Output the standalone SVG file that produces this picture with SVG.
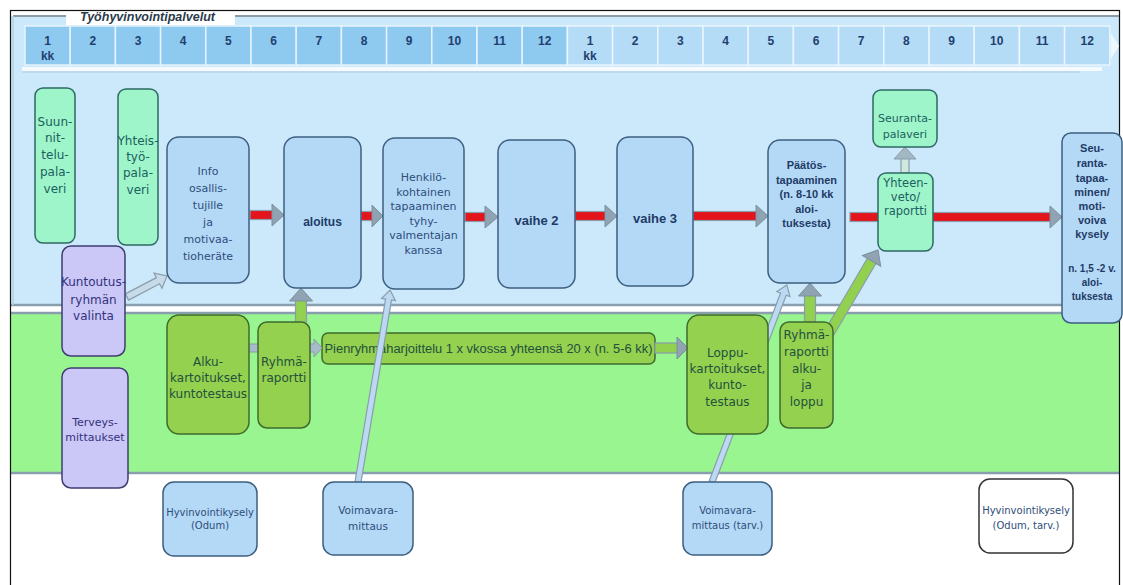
<svg xmlns="http://www.w3.org/2000/svg" width="1123" height="585" viewBox="0 0 1123 585">
<defs>
<style>
.bx{stroke-width:1.5}
.blue{fill:#b4d9f7;stroke:#3d5f80}
.mint{fill:#9ef5ca;stroke:#2d6a63}
.lav{fill:#cbc7f6;stroke:#3e3e70}
.olive{fill:#93d14f;stroke:#3f6b2e}
.white{fill:#ffffff;stroke:#333333}
.cellA{fill:#8ec9f0;stroke:#e6f3fc;stroke-width:1.5}
.cellB{fill:#b5dcf6;stroke:#eaf5fd;stroke-width:1.5}
.hn{font-family:"Liberation Sans",Arial,sans-serif;font-weight:bold;font-size:12px;fill:#1f3f6f;text-anchor:middle}
.t{font-family:"DejaVu Sans",Verdana,sans-serif;text-anchor:middle}
.tb{font-family:"Liberation Sans",Arial,sans-serif;font-weight:bold;text-anchor:middle;fill:#1f3b66}
.cb{fill:#2e4d7a}
.cm{fill:#1d6060}
.cl{fill:#33337e}
.co{fill:#24503e}
.red{fill:#e3141c;stroke:#8a9daa;stroke-width:1.2}
.gh{fill:#8fa3b3;stroke:#7d909e;stroke-width:1}
.gs{fill:#92d050;stroke:#8a9daa;stroke-width:1.2}
.hol{fill:#c6dae9;stroke:#8a9daa;stroke-width:1.2}
.thin{fill:#bcd9f3;stroke:#8a9daa;stroke-width:1.2}
</style>
</defs>

<!-- background -->
<rect x="0" y="0" width="1123" height="585" fill="#ffffff"/>
<rect x="11" y="16" width="1108" height="289" fill="#cce8fb"/>
<rect x="11" y="313" width="1108" height="160" fill="#98f590"/>
<line x1="11" y1="305" x2="1119" y2="305" stroke="#8a9fae" stroke-width="2.5"/>
<line x1="11" y1="313" x2="1119" y2="313" stroke="#8a9fae" stroke-width="2.5"/>
<line x1="11" y1="473" x2="1119" y2="473" stroke="#8a9fae" stroke-width="2.5"/>
<rect x="10.5" y="10.5" width="1109" height="600" fill="none" stroke="#111111" stroke-width="1.2"/>

<!-- header -->
<g id="header">
<line x1="13" y1="16" x2="66" y2="16" stroke="#8a9aa6" stroke-width="2"/>
<line x1="235" y1="16" x2="1119" y2="16" stroke="#8a9aa6" stroke-width="2"/>
<line x1="13" y1="16" x2="13" y2="305" stroke="#b8d2e2" stroke-width="1.5"/>
<rect x="66" y="12" width="169" height="13" fill="#ffffff"/>
<text x="80" y="21" font-family="Liberation Sans, Arial, sans-serif" font-size="12.5" font-weight="bold" font-style="italic" fill="#2a3a4a">Työhyvinvointipalvelut</text>
<rect x="22" y="67" width="1080" height="4" fill="#f4fafe"/>
<line x1="22" y1="72" x2="1080" y2="72" stroke="#b3c9d8" stroke-width="1"/>
<rect class="cellA" x="25" y="26" width="45.2" height="39"/>
<rect class="cellA" x="70.2" y="26" width="45.2" height="39"/>
<rect class="cellA" x="115.4" y="26" width="45.2" height="39"/>
<rect class="cellA" x="160.6" y="26" width="45.2" height="39"/>
<rect class="cellA" x="205.8" y="26" width="45.2" height="39"/>
<rect class="cellA" x="251" y="26" width="45.2" height="39"/>
<rect class="cellA" x="296.2" y="26" width="45.2" height="39"/>
<rect class="cellA" x="341.4" y="26" width="45.2" height="39"/>
<rect class="cellA" x="386.6" y="26" width="45.2" height="39"/>
<rect class="cellA" x="431.8" y="26" width="45.2" height="39"/>
<rect class="cellA" x="477" y="26" width="45.2" height="39"/>
<rect class="cellA" x="522.2" y="26" width="45.2" height="39"/>
<rect class="cellB" x="567.4" y="26" width="45.2" height="39"/>
<rect class="cellB" x="612.6" y="26" width="45.2" height="39"/>
<rect class="cellB" x="657.8" y="26" width="45.2" height="39"/>
<rect class="cellB" x="703" y="26" width="45.2" height="39"/>
<rect class="cellB" x="748.2" y="26" width="45.2" height="39"/>
<rect class="cellB" x="793.4" y="26" width="45.2" height="39"/>
<rect class="cellB" x="838.6" y="26" width="45.2" height="39"/>
<rect class="cellB" x="883.8" y="26" width="45.2" height="39"/>
<rect class="cellB" x="929" y="26" width="45.2" height="39"/>
<rect class="cellB" x="974.2" y="26" width="45.2" height="39"/>
<rect class="cellB" x="1019.4" y="26" width="45.2" height="39"/>
<rect class="cellB" x="1064.6" y="26" width="45.2" height="39"/>
<polygon points="1111,33 1119,46 1111,59" fill="#eef7fd"/>
<text class="hn" x="47.6" y="45">1</text><text class="hn" x="47.6" y="60">kk</text>
<text class="hn" x="92.8" y="45">2</text>
<text class="hn" x="138" y="45">3</text>
<text class="hn" x="183.2" y="45">4</text>
<text class="hn" x="228.4" y="45">5</text>
<text class="hn" x="273.6" y="45">6</text>
<text class="hn" x="318.8" y="45">7</text>
<text class="hn" x="364" y="45">8</text>
<text class="hn" x="409.2" y="45">9</text>
<text class="hn" x="454.4" y="45">10</text>
<text class="hn" x="499.6" y="45">11</text>
<text class="hn" x="544.8" y="45">12</text>
<text class="hn" x="590" y="45">1</text><text class="hn" x="590" y="60">kk</text>
<text class="hn" x="635.2" y="45">2</text>
<text class="hn" x="680.4" y="45">3</text>
<text class="hn" x="725.6" y="45">4</text>
<text class="hn" x="770.8" y="45">5</text>
<text class="hn" x="816" y="45">6</text>
<text class="hn" x="861.2" y="45">7</text>
<text class="hn" x="906.4" y="45">8</text>
<text class="hn" x="951.6" y="45">9</text>
<text class="hn" x="996.8" y="45">10</text>
<text class="hn" x="1042" y="45">11</text>
<text class="hn" x="1087.2" y="45">12</text>
</g>

<g id="pienryhma">
<rect class="bx olive" x="322" y="333" width="333" height="31" rx="6"/>
<text class="co" x="488.5" y="352.5" font-family="Liberation Sans, Arial, sans-serif" font-size="12.5" text-anchor="middle" textLength="328" lengthAdjust="spacingAndGlyphs">Pienryhmäharjoittelu 1 x vkossa yhteensä 20  x (n. 5-6 kk)</text>
</g>

<!-- connectors -->
<g id="connectors">
<!-- red flow arrows -->
<g transform="translate(250,215)"><rect class="red" x="0" y="-4.5" width="23" height="9"/><polygon class="gh" points="22,-11 34,0 22,11"/></g>
<g transform="translate(361,216)"><rect class="red" x="0" y="-4.5" width="12" height="9"/><polygon class="gh" points="11,-11 22,0 11,11"/></g>
<g transform="translate(465,217)"><rect class="red" x="0" y="-4.5" width="21" height="9"/><polygon class="gh" points="20,-11 33,0 20,11"/></g>
<g transform="translate(575,216)"><rect class="red" x="0" y="-4.5" width="31" height="9"/><polygon class="gh" points="30,-11 42,0 30,11"/></g>
<g transform="translate(693,216)"><rect class="red" x="0" y="-4.5" width="64" height="9"/><polygon class="gh" points="63,-11 75,0 63,11"/></g>
<g transform="translate(850,217)"><rect class="red" x="0" y="-4.5" width="201" height="9"/><polygon class="gh" points="200,-11 212,0 200,11"/></g>
<!-- green block arrows -->
<g transform="translate(301,322) rotate(-90)"><rect class="gs" x="0" y="-5.5" width="22" height="11"/><polygon class="gh" points="21,-11.5 34,0 21,11.5"/></g>
<g transform="translate(810,322) rotate(-90)"><rect class="gs" x="0" y="-5.5" width="27" height="11"/><polygon class="gh" points="26,-11.5 39,0 26,11.5"/></g>
<g transform="translate(828,335) rotate(-59.5)"><rect class="gs" x="0" y="-5" width="87" height="10"/><polygon class="gh" points="86,-10.5 98.6,0 86,10.5"/></g>
<g transform="translate(655,348)"><rect class="gs" x="0" y="-5" width="23" height="10"/><polygon class="gh" points="22,-11 33,0 22,11"/></g>
<!-- light arrows -->
<g transform="translate(127,297) rotate(-27.7)"><polygon class="hol" points="0,-3.5 35,-3.5 35,-8.5 45.2,0 35,8.5 35,3.5 0,3.5"/></g>
<g transform="translate(905,173) rotate(-90)"><rect x="0" y="-4" width="15" height="8" fill="#cfe8e0" stroke="#8a9daa" stroke-width="1.2"/><polygon points="14,-11 26,0 14,11" fill="#a4b8c4" stroke="#8a9daa" stroke-width="1"/></g>
<rect x="249" y="344" width="10" height="8" fill="#a6bccb" stroke="#8a9daa" stroke-width="1"/>
<polygon points="310,344 314,344 314,339 322,348 314,357 314,352 310,352" fill="#a6bccb" stroke="#8a9daa" stroke-width="1"/>
<g transform="translate(358,482) rotate(-80.5)"><polygon class="thin" points="0,-3 185,-3 185,-7 194.6,0 185,7 185,3 0,3"/></g>
<g transform="translate(712,482) rotate(-69.2)"><polygon class="thin" points="0,-3 201,-3 201,-7 210.8,0 201,7 201,3 0,3"/></g>
</g>

<!-- nodes -->
<g id="suunnittelu">
<rect class="bx mint" x="35" y="88" width="40" height="155" rx="8"/>
<text class="t cm" font-size="12"><tspan x="55" y="126">Suun-</tspan><tspan x="55" y="142">nit-</tspan><tspan x="55" y="159">telu-</tspan><tspan x="55" y="176">pala-</tspan><tspan x="55" y="192.5">veri</tspan></text>
</g>
<g id="yhteistyo">
<rect class="bx mint" x="118" y="89" width="40" height="156" rx="8"/>
<text class="t cm" font-size="12"><tspan x="138" y="144.5">Yhteis-</tspan><tspan x="138" y="160.5">työ-</tspan><tspan x="138" y="177">pala-</tspan><tspan x="138" y="193.5">veri</tspan></text>
</g>
<g id="kuntoutus">
<rect class="bx lav" x="62" y="246" width="63" height="110" rx="9"/>
<text class="t cl" font-size="12"><tspan x="93.5" y="286">Kuntoutus-</tspan><tspan x="93.5" y="303.5">ryhmän</tspan><tspan x="93.5" y="320">valinta</tspan></text>
</g>
<g id="terveys">
<rect class="bx lav" x="62" y="368" width="66" height="120" rx="9"/>
<text class="t cl" font-size="11"><tspan x="95" y="426">Terveys-</tspan><tspan x="95" y="441">mittaukset</tspan></text>
</g>
<g id="info">
<rect class="bx blue" x="167" y="137" width="82" height="146" rx="12"/>
<text class="t cb" font-size="11"><tspan x="208" y="175">Info</tspan><tspan x="208" y="192">osallis-</tspan><tspan x="208" y="209">tujille</tspan><tspan x="208" y="226">ja</tspan><tspan x="208" y="243">motivaa-</tspan><tspan x="208" y="260">tioheräte</tspan></text>
</g>
<g id="aloitus">
<rect class="bx blue" x="284" y="137" width="77" height="151" rx="12"/>
<text class="tb" x="322.5" y="226" font-size="12">aloitus</text>
</g>
<g id="henkilo">
<rect class="bx blue" x="383" y="138" width="81" height="151" rx="12"/>
<text class="t cb" font-size="11"><tspan x="423.5" y="181">Henkilö-</tspan><tspan x="423.5" y="195.5">kohtainen</tspan><tspan x="423.5" y="210">tapaaminen</tspan><tspan x="423.5" y="224.5">tyhy-</tspan><tspan x="423.5" y="239">valmentajan</tspan><tspan x="423.5" y="254">kanssa</tspan></text>
</g>
<g id="vaihe2">
<rect class="bx blue" x="498" y="140" width="77" height="148" rx="12"/>
<text class="tb" x="536.5" y="225" font-size="13">vaihe 2</text>
</g>
<g id="vaihe3">
<rect class="bx blue" x="617" y="137" width="76" height="149" rx="12"/>
<text class="tb" x="655" y="223" font-size="13">vaihe 3</text>
</g>
<g id="paatos">
<rect class="bx blue" x="768" y="140" width="77" height="143" rx="12"/>
<text class="tb" font-size="11"><tspan x="806.5" y="169">Päätös-</tspan><tspan x="806.5" y="183.5">tapaaminen</tspan><tspan x="806.5" y="198">(n. 8-10 kk</tspan><tspan x="806.5" y="212.5">aloi-</tspan><tspan x="806.5" y="227">tuksesta)</tspan></text>
</g>
<g id="seurantapalaveri">
<rect class="bx mint" x="873" y="90" width="64" height="57" rx="8"/>
<text class="t cm" font-size="11"><tspan x="905" y="122">Seuranta-</tspan><tspan x="905" y="138">palaveri</tspan></text>
</g>
<g id="yhteenveto">
<rect class="bx mint" x="878" y="173" width="55" height="78" rx="8"/>
<text class="t cm" font-size="11.5"><tspan x="905.5" y="187">Yhteen-</tspan><tspan x="905.5" y="201">veto/</tspan><tspan x="905.5" y="215">raportti</tspan></text>
</g>
<g id="seurantatapaaminen">
<rect class="bx blue" x="1062" y="133" width="60" height="190" rx="9"/>
<text class="tb" font-size="11"><tspan x="1092" y="152">Seu-</tspan><tspan x="1092" y="167">ranta-</tspan><tspan x="1092" y="182">tapaa-</tspan><tspan x="1092" y="196">minen/</tspan><tspan x="1092" y="210">moti-</tspan><tspan x="1092" y="224">voiva</tspan><tspan x="1092" y="238">kysely</tspan></text>
<text class="tb" font-size="10"><tspan x="1092" y="271.5">n. 1,5 -2 v.</tspan><tspan x="1092" y="285.5">aloi-</tspan><tspan x="1092" y="299.5">tuksesta</tspan></text>
</g>
<g id="alku">
<rect class="bx olive" x="167" y="315" width="82" height="119" rx="12"/>
<text class="t co" font-size="12"><tspan x="208" y="366">Alku-</tspan><tspan x="208" y="381.5">kartoitukset,</tspan><tspan x="208" y="398">kuntotestaus</tspan></text>
</g>
<g id="ryhmaraportti1">
<rect class="bx olive" x="258" y="322" width="52" height="106" rx="9"/>
<text class="t co" font-size="12"><tspan x="284" y="366">Ryhmä-</tspan><tspan x="284" y="382">raportti</tspan></text>
</g>
<g id="loppu">
<rect class="bx olive" x="687" y="315" width="81" height="119" rx="12"/>
<text class="t co" font-size="12"><tspan x="727.5" y="356.5">Loppu-</tspan><tspan x="727.5" y="372.5">kartoitukset,</tspan><tspan x="727.5" y="389">kunto-</tspan><tspan x="727.5" y="406">testaus</tspan></text>
</g>
<g id="ryhmaraportti2">
<rect class="bx olive" x="780" y="322" width="53" height="106" rx="9"/>
<text class="t co" font-size="12"><tspan x="806.5" y="339">Ryhmä-</tspan><tspan x="806.5" y="356">raportti</tspan><tspan x="806.5" y="372.5">alku-</tspan><tspan x="806.5" y="389">ja</tspan><tspan x="806.5" y="406">loppu</tspan></text>
</g>
<g id="hyvinvointi1">
<rect class="bx blue" x="163" y="482" width="94" height="74" rx="11"/>
<text class="t cb" font-size="10"><tspan x="210" y="515.5">Hyvinvointikysely</tspan><tspan x="210" y="529">(Odum)</tspan></text>
</g>
<g id="voimavara1">
<rect class="bx blue" x="323" y="482" width="90" height="73" rx="11"/>
<text class="t cb" font-size="10.5"><tspan x="368" y="514">Voimavara-</tspan><tspan x="368" y="529.5">mittaus</tspan></text>
</g>
<g id="voimavara2">
<rect class="bx blue" x="683" y="482" width="89" height="73" rx="11"/>
<text class="t cb" font-size="10"><tspan x="727.5" y="514">Voimavara-</tspan><tspan x="727.5" y="529">mittaus (tarv.)</tspan></text>
</g>
<g id="hyvinvointi2">
<rect class="bx white" x="979" y="479" width="94" height="74" rx="11"/>
<text class="t cb" font-size="10"><tspan x="1026" y="514">Hyvinvointikysely</tspan><tspan x="1026" y="529">(Odum, tarv.)</tspan></text>
</g>
</svg>
